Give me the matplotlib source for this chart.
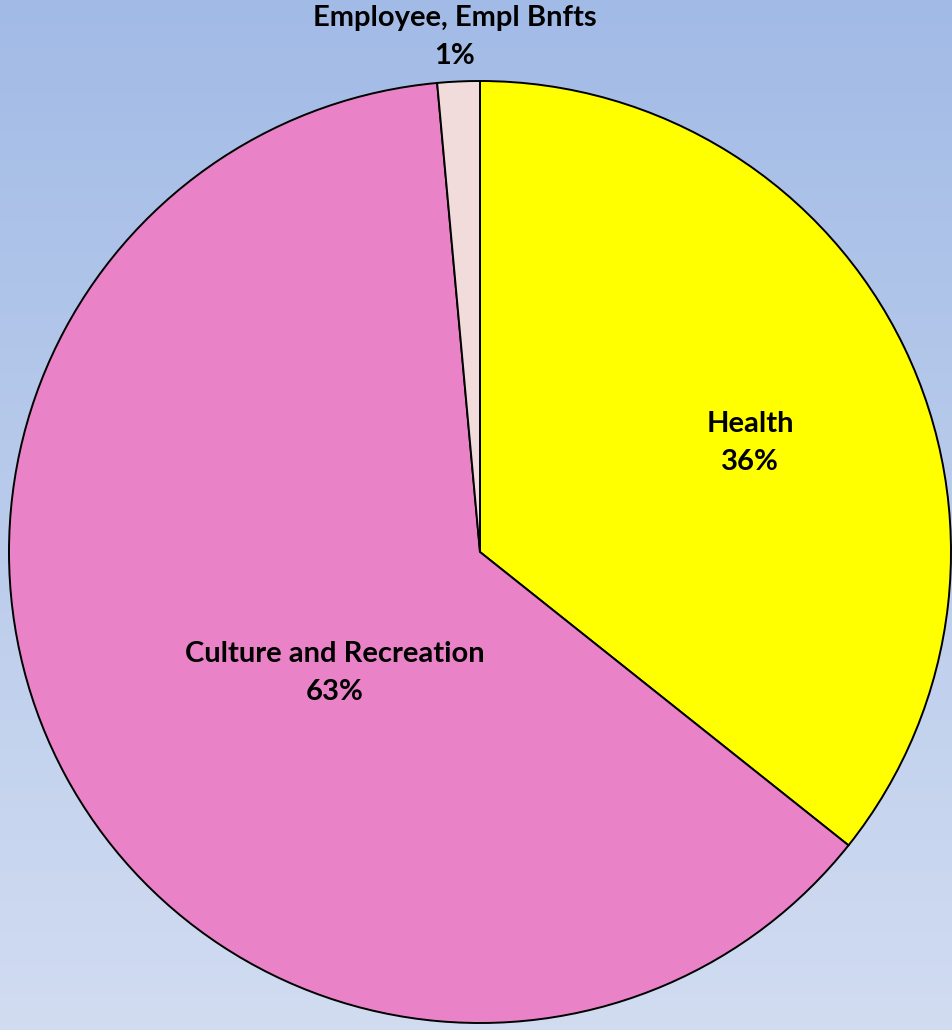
import matplotlib.pyplot as plt
import numpy as np

labels = ["Health", "Culture and Recreation", "Employee, Empl Bnfts"]
shares = [35.7, 62.85, 1.45]
colors = ["#FFFF00", "#EA82C8", "#F2DCDB"]

W, H = 952, 1030
fig = plt.figure(figsize=(W / 100, H / 100), dpi=100)
ax = fig.add_axes([0, 0, 1, 1])

# vertical gradient background
grad = np.linspace(0, 1, 256).reshape(-1, 1)
top = np.array([0.635, 0.733, 0.902])
bot = np.array([0.820, 0.863, 0.945])
img = top + (bot - top) * grad[:, :, None]
ax.imshow(img, extent=[0, W, 0, H], origin="upper", aspect="auto", zorder=0)

ax.pie(shares, colors=colors, startangle=90, counterclock=False,
       center=(480, H - 552), radius=471, frame=True,
       wedgeprops=dict(edgecolor="black", linewidth=1.4))
ax.set_xlim(0, W)
ax.set_ylim(0, H)
ax.set_aspect("equal")
ax.axis("off")

label_pos = [(750, H - 443), (335, H - 673), (455, H - 37)]
for name, val, (x, y) in zip(labels, shares, label_pos):
    ax.text(x, y, f"{name}\n{val:.0f}%", ha="center", va="center",
            fontsize=21, fontweight="bold", family="Lato",
            linespacing=1.6, zorder=5)

fig.savefig("out.png", dpi=100)
